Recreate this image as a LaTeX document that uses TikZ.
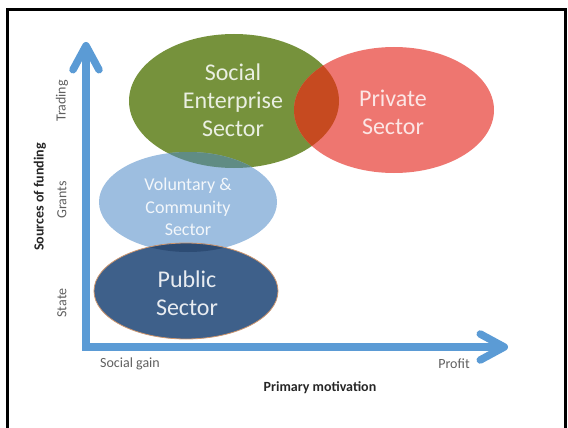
\documentclass[tikz,border=0pt]{standalone}
\usepackage{fontspec}
\setmainfont{Carlito}
\usetikzlibrary{positioning,arrows.meta}
\usepackage{xcolor}

\definecolor{axisblue}{RGB}{91,155,213}
\definecolor{segreen}{RGB}{118,146,60}
\definecolor{prired}{RGB}{238,118,112}
\definecolor{mixred}{RGB}{198,74,32}
\definecolor{volblue}{RGB}{157,190,224}
\definecolor{mixteal}{RGB}{96,140,132}
\definecolor{pubblue}{RGB}{62,96,138}
\definecolor{mixblue}{RGB}{45,76,116}
\definecolor{pubedge}{RGB}{205,150,110}
\definecolor{labelgray}{RGB}{95,95,95}

\begin{document}
\begin{tikzpicture}[x=1pt,y=-1pt]
	\useasboundingbox (0,0) rectangle (568,428);
	\tikzstyle{axis}=[line width=7.5pt, axisblue, line join=miter, {Straight Barb[length=24pt,width=26pt,round]}-{Straight Barb[length=24pt,width=26pt,round]}]
	\tikzstyle{bigtext}=[align=center, font=\fontsize{24}{28}\selectfont]
	\tikzstyle{voltext}=[align=center, font=\fontsize{18}{22.5}\selectfont, text=white!88!volblue]
	\tikzstyle{ticklabel}=[font=\fontsize{14}{16}\selectfont, text=labelgray]
	\tikzstyle{axistitle}=[font=\fontsize{14}{16}\selectfont\bfseries, text=black!85]

	% frame
	\draw[line width=3pt] (7,440) -- (7,10) -- (565,10) -- (565,440);

	% ellipse centres
	\coordinate (socc) at (234,101);
	\coordinate (pric) at (394,110);
	\coordinate (volc) at (188,202);
	\coordinate (pubc) at (186,291);

	% sectors
	\fill[segreen] (socc) ellipse [x radius=105pt, y radius=67pt];
	\fill[prired] (pric) ellipse [x radius=100pt, y radius=63pt];
	\begin{scope}
		\clip (socc) ellipse [x radius=105pt, y radius=67pt];
		\fill[mixred] (pric) ellipse [x radius=100pt, y radius=63pt];
	\end{scope}
	\fill[volblue] (volc) ellipse [x radius=89pt, y radius=50pt];
	\begin{scope}
		\clip (socc) ellipse [x radius=105pt, y radius=67pt];
		\fill[mixteal] (volc) ellipse [x radius=89pt, y radius=50pt];
	\end{scope}
	\fill[pubblue] (pubc) ellipse [x radius=92pt, y radius=48pt];
	\begin{scope}
		\clip (volc) ellipse [x radius=89pt, y radius=50pt];
		\fill[mixblue] (pubc) ellipse [x radius=92pt, y radius=48pt];
	\end{scope}
	\draw[pubedge, line width=0.8pt] (pubc) ellipse [x radius=92pt, y radius=48pt];

	\node[bigtext, text=white!85!segreen] (social) at (233,100) {Social\\Enterprise\\Sector};
	\node[bigtext, text=white!82!prired] (private) at (393,112) {Private\\Sector};
	\node[voltext] (voluntary) at (188,207) {Voluntary \&\\Community\\Sector};
	\node[bigtext, text=white!88!pubblue] (public) at (187,293) {Public\\Sector};

	% axes
	\coordinate (ytip) at (86,42);
	\coordinate (origin) at (86,347);
	\coordinate (xtip) at (508,347);
	\draw[axis] (ytip) -- (origin) -- (xtip);

	% labels
	\node[ticklabel, rotate=90] (trading) at (62,101) {Trading};
	\node[ticklabel, rotate=90] (grants) at (62,200) {Grants};
	\node[ticklabel, rotate=90] (state) at (62,303) {State};
	\node[axistitle, rotate=90] (funding) at (40,197) {Sources of funding};
	\node[ticklabel] (socgain) at (130,364) {Social gain};
	\node[ticklabel] (profit) at (454,364) {Profit};
	\node[axistitle] (motive) at (320,388) {Primary motivation};
\end{tikzpicture}
\end{document}
